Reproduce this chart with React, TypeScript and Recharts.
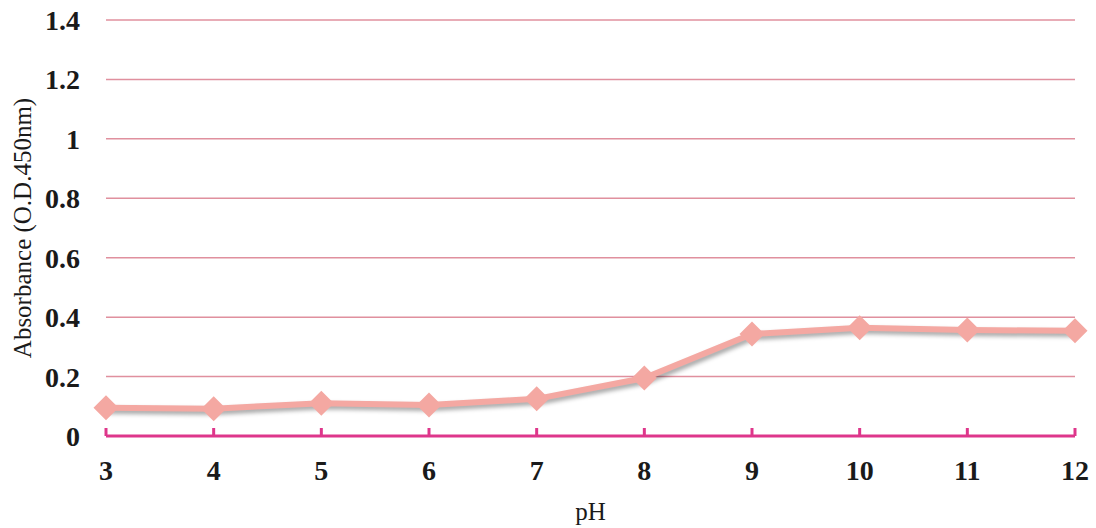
import React from 'react';
import { LineChart, Line, XAxis, YAxis, CartesianGrid } from 'recharts';

// pH values and absorbance
const phValues = [3, 4, 5, 6, 7, 8, 9, 10, 11, 12];
const absorbance = [0.095, 0.092, 0.11, 0.104, 0.125, 0.195, 0.343, 0.364, 0.357, 0.354];
const yTicks = [0, 0.2, 0.4, 0.6, 0.8, 1, 1.2, 1.4];

const data = phValues.map((ph, i) => ({ ph, value: absorbance[i] }));

const FONT = '"Liberation Serif", "Times New Roman", serif';
const AXIS_PINK = '#DE368B';
const LINE_PINK = '#F4A8A2';

const TICK_MARGIN = 34;

const XTick = (props: any) => {
  const { x, y, payload } = props;
  const axisY = y - TICK_MARGIN;
  return (
    <g>
      <line x1={x} x2={x} y1={axisY - 8} y2={axisY} stroke={AXIS_PINK} strokeWidth={3} />
      <text x={x} y={y} textAnchor="middle" dominantBaseline="central"
        fontFamily={FONT} fontWeight="bold" fontSize={28} fill="#1a1a1a">
        {payload.value}
      </text>
    </g>
  );
};

const Diamond = (props: any) => {
  const { cx, cy } = props;
  if (cx == null || cy == null) return null;
  const s = 12.5;
  return (
    <polygon
      points={`${cx},${cy - s} ${cx + s},${cy} ${cx},${cy + s} ${cx - s},${cy}`}
      fill={LINE_PINK}
    />
  );
};

const App = () => {
  return (
    <div style={{ position: 'absolute', left: 0, top: 0, width: 1096, height: 528, background: '#fff' }}>
      <style>{`.shadowed { filter: drop-shadow(2px 3px 2px rgba(0,0,0,0.35)); }`}</style>
      <LineChart width={1096} height={528} data={data}
        margin={{ top: 20, right: 21, left: 0, bottom: 0 }}>
        <CartesianGrid vertical={false} stroke="#E0909E" strokeWidth={1.5} />
        <XAxis
          dataKey="ph"
          type="number"
          domain={[3, 12]}
          ticks={phValues}
          interval={0}
          height={92}
          axisLine={{ stroke: AXIS_PINK, strokeWidth: 3 }}
          tickLine={false}
          tickSize={0}
          tickMargin={TICK_MARGIN}
          tick={<XTick />}
          label={{ value: 'pH', position: 'insideBottom', offset: 8, fontFamily: FONT, fontSize: 25, fill: '#1a1a1a' }}
        />
        <YAxis
          domain={[0, 1.4]}
          ticks={yTicks}
          width={106}
          axisLine={false}
          tickLine={false}
          tickSize={0}
          tickMargin={26}
          tick={{ fontFamily: FONT, fontWeight: 'bold', fontSize: 28, fill: '#1a1a1a' }}
          label={{
            value: 'Absorbance (O.D.450nm)', angle: -90, position: 'insideLeft', offset: 22,
            style: { textAnchor: 'middle', fontFamily: FONT, fontSize: 25, fill: '#1a1a1a' },
          }}
        />
        <Line
          className="shadowed"
          type="linear"
          dataKey="value"
          stroke={LINE_PINK}
          strokeWidth={6}
          dot={<Diamond />}
          activeDot={false}
          isAnimationActive={false}
        />
      </LineChart>
    </div>
  );
};

export default App;
